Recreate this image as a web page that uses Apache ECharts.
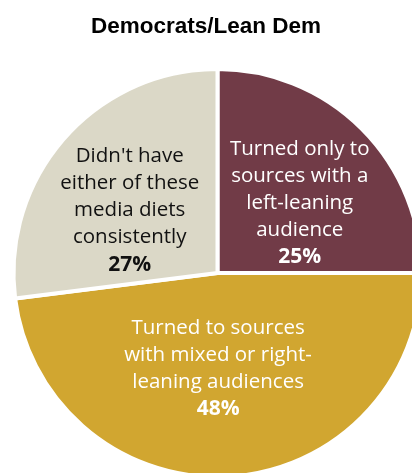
<!DOCTYPE html>
<html>
<head>
<meta charset="utf-8">
<script src="https://cdn.jsdelivr.net/npm/echarts@6/dist/echarts.min.js"></script>
<style>
  html, body { margin: 0; padding: 0; background: #fff; }
  #chart { width: 412px; height: 473px; }
</style>
</head>
<body>
<div id="chart"></div>
<script>
// Media diet shares among Democrats and Democratic leaners
const chartTitle = 'Democrats/Lean Dem';
const categories = [
  'Turned only to\nsources with a\nleft-leaning\naudience',
  'Turned to sources\nwith mixed or right-\nleaning audiences',
  "Didn't have\neither of these\nmedia diets\nconsistently"
];
const shares = [25, 48, 27];
const sliceColors = ['#713b47', '#d1a630', '#dbd8c7'];
const labelColors = ['#ffffff', '#ffffff', '#111111'];
const labelOffsets = [[8, 4], [-6, -9], [-9, 7]];

const chart = echarts.init(document.getElementById('chart'), null, { renderer: 'canvas' });

const data = categories.map((name, i) => ({
  name: name,
  value: shares[i],
  itemStyle: { color: sliceColors[i] },
  label: {
    color: labelColors[i],
    offset: labelOffsets[i],
    rich: {
      n: { color: labelColors[i], fontFamily: 'Open Sans', fontSize: 20.5, lineHeight: 27, align: 'center' },
      p: { color: labelColors[i], fontFamily: 'Open Sans', fontWeight: 'bold', fontSize: 21, lineHeight: 27, align: 'center' }
    }
  }
}));

chart.setOption({
  animation: false,
  backgroundColor: '#ffffff',
  title: {
    text: chartTitle,
    left: 'center',
    top: 10,
    textStyle: { fontFamily: 'Liberation Sans', fontWeight: 'bold', fontSize: 22.5, color: '#000' }
  },
  series: [{
    type: 'pie',
    center: [217.5, 273],
    radius: [0, 204],
    startAngle: 90,
    clockwise: true,
    avoidLabelOverlap: false,
    itemStyle: { borderColor: '#ffffff', borderWidth: 4 },
    label: {
      show: true,
      position: 'inside',
      align: 'center',
      formatter: p => '{n|' + p.name + '}\n{p|' + p.value + '%}'
    },
    labelLine: { show: false },
    emphasis: { disabled: true },
    data: data
  }]
});
</script>
</body>
</html>
